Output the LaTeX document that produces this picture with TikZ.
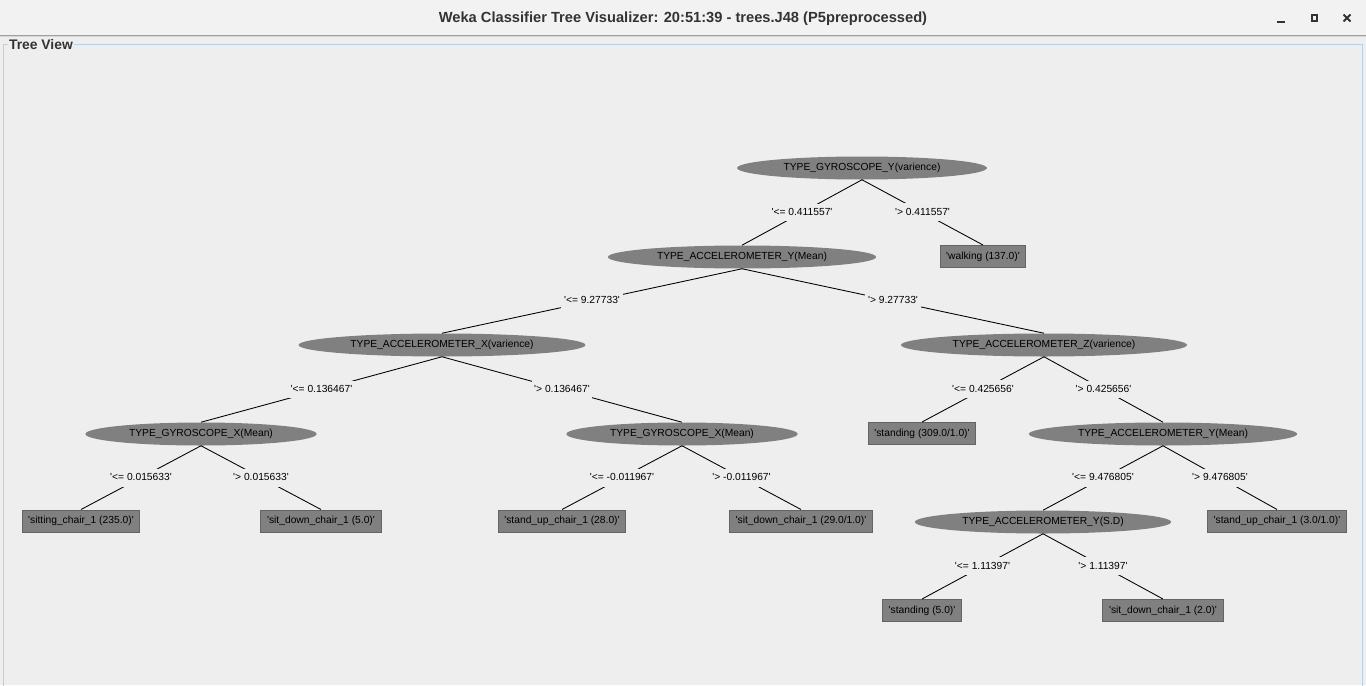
\documentclass[tikz,border=0pt]{standalone}
\usepackage{fontspec}
\setmainfont{Liberation Sans}
\usetikzlibrary{shapes.geometric}

\definecolor{titlebg}{RGB}{242,242,242}
\definecolor{panelbg}{RGB}{238,238,238}
\definecolor{panelrim}{RGB}{184,207,229}
\definecolor{nodegray}{RGB}{128,128,128}
\definecolor{leafrim}{RGB}{100,100,100}
\definecolor{winink}{RGB}{51,51,51}
\newcommand{\q}{\textquotesingle}

\tikzset{
	treefont/.style={font=\fontsize{7.7}{9}\selectfont, text height=5.7pt, text depth=1.7pt},
	split/.style={ellipse, fill=nodegray, treefont, inner xsep=7.4pt, inner ysep=0pt, minimum height=17.25pt},
	leaf/.style={rectangle, fill=nodegray, draw=leafrim, line width=0.75pt, treefont, inner xsep=4.6pt, inner ysep=0pt, minimum height=16.5pt},
	cond/.style={fill=panelbg, treefont, inner xsep=2pt, inner ysep=3pt},
	branch/.style={draw=black, line width=0.65pt},
	winbtn/.style={draw=winink, line width=1.5pt},
}

\begin{document}
\begin{tikzpicture}[x=0.75pt,y=0.75pt,yscale=-1,xscale=1]
	\useasboundingbox (0,0) rectangle (1366,685);
	
	%Shape: Title bar
	\fill [titlebg] (0,0) rectangle (1366,35);
	\fill [panelbg] (0,36) rectangle (1366,685);
	\draw [color={rgb, 255:red, 160; green, 160; blue, 160 }] (0,35.5) -- (1366,35.5);
	\draw [color={rgb, 255:red, 215; green, 215; blue, 215 }] (0,36.5) -- (1366,36.5);
	% Text Node
	\node (title) at (683,19) [text=winink, font=\bfseries\fontsize{11}{13}\selectfont] {Weka Classifier Tree Visualizer: 20:51:39 - trees.J48 (P5preprocessed)};
	%Window buttons
	\draw [winbtn] (1277,22) -- (1285,22);
	\draw [winbtn] (1311.5,15.5) rectangle (1317,21);
	\draw [winbtn] (1343.5,14.5) -- (1350.5,21.5) (1350.5,14.5) -- (1343.5,21.5);
	
	%Shape: Panel
	\draw [panelrim, line width=0.75pt] (3.5,44.5) rectangle (1362.5,700);
	% Text Node
	\node (treeview) at (7.5,44.5) [anchor=west, fill=panelbg, inner sep=1pt, text=winink, font=\bfseries\fontsize{10.4}{12}\selectfont] {Tree View};
	
	%Split nodes
	\node [split] (gyroY) at (862,168) {TYPE\_GYROSCOPE\_Y(varience)};
	\node [split] (accYmean) at (742,257) {TYPE\_ACCELEROMETER\_Y(Mean)};
	\node [split] (accXvar) at (442,345) {TYPE\_ACCELEROMETER\_X(varience)};
	\node [split] (accZvar) at (1044,345) {TYPE\_ACCELEROMETER\_Z(varience)};
	\node [split] (gyroXa) at (201,434) {TYPE\_GYROSCOPE\_X(Mean)};
	\node [split] (gyroXb) at (682,434) {TYPE\_GYROSCOPE\_X(Mean)};
	\node [split] (accYmeanB) at (1163,434) {TYPE\_ACCELEROMETER\_Y(Mean)};
	\node [split] (accYsd) at (1043,522) {TYPE\_ACCELEROMETER\_Y(S.D)};
	
	%Leaf nodes
	\node [leaf] (walking) at (983,256.5) {\q walking (137.0)\q};
	\node [leaf] (standingA) at (922,433.5) {\q standing (309.0/1.0)\q};
	\node [leaf] (sittingA) at (81,521) {\q sitting\_chair\_1 (235.0)\q};
	\node [leaf] (sitdownA) at (321,521) {\q sit\_down\_chair\_1 (5.0)\q};
	\node [leaf] (standupA) at (562,521) {\q stand\_up\_chair\_1 (28.0)\q};
	\node [leaf] (sitdownB) at (801,521) {\q sit\_down\_chair\_1 (29.0/1.0)\q};
	\node [leaf] (standupB) at (1277,521) {\q stand\_up\_chair\_1 (3.0/1.0)\q};
	\node [leaf] (standingB) at (922,610.5) {\q standing (5.0)\q};
	\node [leaf] (sitdownC) at (1163,610.5) {\q sit\_down\_chair\_1 (2.0)\q};
	
	%Straight Lines
	\draw [branch] (gyroY.south) -- node [cond] (c1) {\q<= 0.411557\q} (accYmean.north);
	\draw [branch] (gyroY.south) -- node [cond] (c2) {\q> 0.411557\q} (walking.north);
	\draw [branch] (accYmean.south) -- node [cond] (c3) {\q<= 9.27733\q} (accXvar.north);
	\draw [branch] (accYmean.south) -- node [cond] (c4) {\q> 9.27733\q} (accZvar.north);
	\draw [branch] (accXvar.south) -- node [cond] (c5) {\q<= 0.136467\q} (gyroXa.north);
	\draw [branch] (accXvar.south) -- node [cond] (c6) {\q> 0.136467\q} (gyroXb.north);
	\draw [branch] (accZvar.south) -- node [cond] (c7) {\q<= 0.425656\q} (standingA.north);
	\draw [branch] (accZvar.south) -- node [cond] (c8) {\q> 0.425656\q} (accYmeanB.north);
	\draw [branch] (gyroXa.south) -- node [cond] (c9) {\q<= 0.015633\q} (sittingA.north);
	\draw [branch] (gyroXa.south) -- node [cond] (c10) {\q> 0.015633\q} (sitdownA.north);
	\draw [branch] (gyroXb.south) -- node [cond] (c11) {\q<= -0.011967\q} (standupA.north);
	\draw [branch] (gyroXb.south) -- node [cond] (c12) {\q> -0.011967\q} (sitdownB.north);
	\draw [branch] (accYmeanB.south) -- node [cond] (c13) {\q<= 9.476805\q} (accYsd.north);
	\draw [branch] (accYmeanB.south) -- node [cond] (c14) {\q> 9.476805\q} (standupB.north);
	\draw [branch] (accYsd.south) -- node [cond] (c15) {\q<= 1.11397\q} (standingB.north);
	\draw [branch] (accYsd.south) -- node [cond] (c16) {\q> 1.11397\q} (sitdownC.north);
	
\end{tikzpicture}
\end{document}
